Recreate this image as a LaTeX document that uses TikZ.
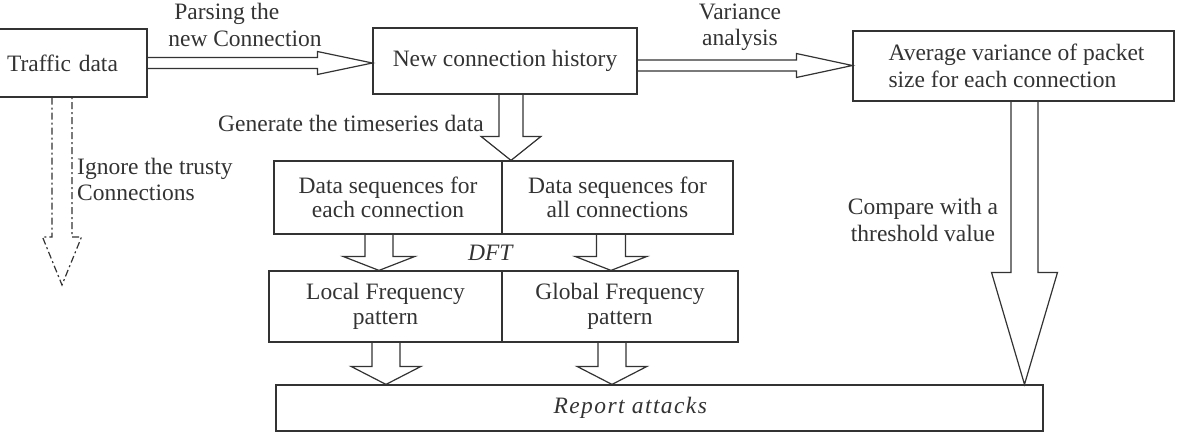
\documentclass[tikz,border=0pt]{standalone}
\usepackage{fontspec}
\setmainfont{Liberation Serif}
\usetikzlibrary{calc,backgrounds}
\definecolor{ink}{gray}{0.2}
\tikzset{
  box/.style={draw=ink, line width=1.2pt, inner sep=0pt, align=center, text=ink},
  blk/.style={draw=ink, line width=1.2pt, line join=miter, fill=white},
  dashblk/.style={draw=ink, line width=1.2pt, dash pattern=on 7pt off 3pt on 2pt off 3pt},
  lbl/.style={text=ink, inner sep=0pt, align=center},
}
% horizontal block arrow: start, tip, shaft half width, head half width, head length
\newcommand\harrowR[6][blk]{%
  \draw[#1] let \p1=(#2), \p2=(#3) in
    (\x1,\y1+#4) -- (\x2-#6,\y1+#4) -- (\x2-#6,\y1+#5) -- (\x2,\y1)
    -- (\x2-#6,\y1-#5) -- (\x2-#6,\y1-#4) -- (\x1,\y1-#4);}
% vertical (downward) block arrow
\newcommand\varrowD[6][blk]{%
  \draw[#1] let \p1=(#2), \p2=(#3) in
    (\x1-#4,\y1) -- (\x1-#4,\y2+#6) -- (\x1-#5,\y2+#6) -- (\x1,\y2)
    -- (\x1+#5,\y2+#6) -- (\x1+#4,\y2+#6) -- (\x1+#4,\y1);}
\begin{document}
\begin{tikzpicture}[x=1pt,y=-1pt,font=\fontsize{23.5}{26.5}\selectfont]
\useasboundingbox (0,0) rectangle (1179,432);

% boxes
\node[box, minimum width=149pt, minimum height=68pt, text width=131pt, align=left] (traffic) at (72.5,63) {Traffic data};
\node[box, minimum width=264pt, minimum height=66pt] (nch) at (505,61) {New connection history};
\node[box, minimum width=321pt, minimum height=70pt, align=left] (avg) at (1013.5,66) {\hspace*{6pt}Average variance of packet\\\hspace*{6pt}size for each connection};
\node[box, minimum width=228pt, minimum height=73pt, font=\fontsize{23.5}{24.5}\selectfont] (ds1) at (388,197.5) {Data sequences for\\each connection};
\node[box, minimum width=231pt, minimum height=73pt, font=\fontsize{23.5}{24.5}\selectfont] (ds2) at (617.5,197.5) {Data sequences for\\all connections};
\node[box, minimum width=233pt, minimum height=71pt, font=\fontsize{23.5}{25}\selectfont] (lf) at (385.5,306.5) {Local Frequency\\pattern};
\node[box, minimum width=236pt, minimum height=71pt, font=\fontsize{23.5}{25}\selectfont] (gf) at (620,306.5) {Global Frequency\\pattern};
\node[box, minimum width=767pt, minimum height=46pt] (report) at (659.5,408) {\addfontfeature{LetterSpace=6}\textit{Report attacks}\hspace*{57pt}};

% labels
\node[lbl, align=left] (lparse) at (245,25) {\hspace*{6pt}Parsing the\\new Connection};
\node[lbl] (lvar) at (740,27.5) {Variance\\analysis};
\node[lbl] (lgen) at (351,123) {Generate the timeseries data};
\node[lbl, align=left, anchor=west] (lign) at (77,179.5) {Ignore the trusty\\Connections};
\node[lbl] (lcmp) at (923,220) {Compare with a\\threshold value};
\node[lbl] (ldft) at (491,253) {\textit{DFT}};

\coordinate (ignend) at (62,285);

\begin{scope}[on background layer]
\harrowR{traffic.east}{nch.west}{5.5pt}{11.5pt}{55pt}
\harrowR{$(nch.east)+(0,4.5)$}{avg.west}{5.5pt}{12pt}{56pt}
\varrowD{$(nch.south)+(6,0)$}{$(ds1.north)+(123,0)$}{12pt}{30pt}{24pt}
\varrowD{$(ds1.south)+(-9,0)$}{$(lf.north)+(-6.5,0)$}{14pt}{36pt}{14pt}
\varrowD{$(ds2.south)+(-6.5,0)$}{$(gf.north)+(-9,0)$}{14.5pt}{36pt}{14pt}
\varrowD{$(lf.south)+(0.5,0)$}{$(report.north)+(-273.5,0)$}{14pt}{35pt}{18pt}
\varrowD{$(gf.south)+(-8,0)$}{$(report.north)+(-47.5,0)$}{14pt}{35pt}{18pt}
\varrowD{$(avg.south)+(11,0)$}{$(report.north)+(365,0)$}{13.5pt}{33pt}{112pt}
\varrowD[dashblk]{$(traffic.south)+(-10.5,0)$}{ignend}{10pt}{19.5pt}{48pt}
\end{scope}
\end{tikzpicture}
\end{document}
